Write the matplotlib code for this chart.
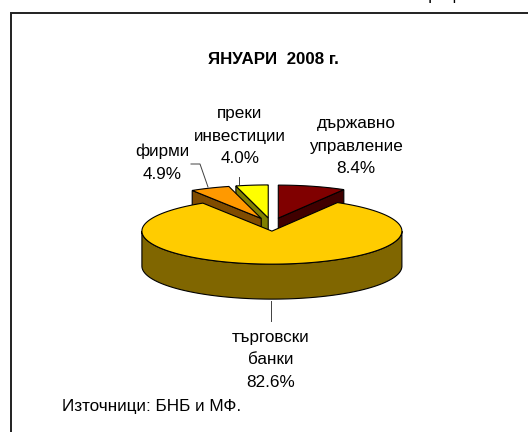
import matplotlib
matplotlib.use('Agg')
import matplotlib.pyplot as plt
import numpy as np

plt.rcParams['font.family'] = ['Liberation Sans', 'DejaVu Sans']

# --- Data ---
labels = ['държавно\nуправление', 'търговски\nбанки', 'фирми', 'преки\nинвестиции']
values = [8.4, 82.6, 4.9, 4.0]
top_colors = ['#800000', '#FFCC00', '#FF9900', '#FFFF00']
side_colors = ['#400000', '#806600', '#804C00', '#808000']
title = 'ЯНУАРИ  2008 г.'
source = 'Източници: БНБ и МФ.'
header = 'Графика'

# --- Pie geometry in pixels ---
CX, CY = 271.5, 224.5
RADIUS = 130
TILT = 0.254
DEPTH = 35
EXPLODE = 26

fig = plt.figure(figsize=(5.28, 4.32), dpi=100)
ax = fig.add_axes([0, 0, 1, 1])
ax.set_xlim(0, 528)
ax.set_ylim(432, 0)
ax.axis('off')


def rim(a, b, apex):
    t = np.radians(np.linspace(a, b, 200))
    return apex[0] + RADIUS * np.sin(t), apex[1] - RADIUS * TILT * np.cos(t)


def draw_slice(a, b, top, side):
    mid = np.radians((a + b) / 2)
    apex = (CX + EXPLODE * np.sin(mid), CY - EXPLODE * TILT * np.cos(mid))
    x, y = rim(a, b, apex)
    # radial wall that faces the viewer, the big slice hides its own
    if b - a < 90:
        ex, ey = rim(b if b < 180 else a, b if b < 180 else a, apex)
        ax.fill([apex[0], ex[0], ex[0], apex[0]],
                [apex[1], ey[0], ey[0] + DEPTH, apex[1] + DEPTH],
                fc=side, ec='black', lw=0.8)
    # outer wall, the part of the rim on the lower half of the ellipse
    lo, hi = max(a, 90), min(b, 270)
    if hi > lo:
        wx, wy = rim(lo, hi, apex)
        ax.fill(np.r_[wx, wx[::-1]], np.r_[wy, wy[::-1] + DEPTH],
                fc=side, ec='black', lw=0.8)
    ax.fill(np.r_[apex[0], x], np.r_[apex[1], y], fc=top, ec='black', lw=0.8)


# --- Slices, angles run clockwise from 12 o'clock ---
shares = np.array(values) / sum(values) * 360
ends = np.cumsum(shares)
starts = ends - shares
for i in [0, 3, 2, 1]:
    draw_slice(starts[i], ends[i], top_colors[i], side_colors[i])

# --- Leader lines ---
ax.plot([191, 200, 208], [164, 164, 187], color='#404040', lw=0.7)
ax.plot([239, 239], [177, 184], color='#404040', lw=0.7)
ax.plot([270.5, 270.5], [301, 321], color='#404040', lw=0.7)

# --- Text ---
FS = 12.3
tkw = dict(fontsize=FS, ha='center', va='center', linespacing=1.65, color='black')
texts = [f'{n}\n{v}%' for n, v in zip(labels, values)]
ax.text(356, 146, texts[0], **tkw)
ax.text(271, 360, texts[1], **tkw)
ax.text(162, 163, texts[2], **tkw)
ax.text(240, 136, texts[3], **tkw)
ax.text(273.5, 60, title, fontsize=12.2, fontweight='bold', ha='center', va='center')
ax.text(62, 407, source, fontsize=FS, ha='left', va='center')
# header line is cut off by the top of the image
ax.text(421, 0, header, fontsize=FS, ha='left', va='baseline')

# --- Frame ---
ax.plot([10.5, 10.5, 528], [432, 12.5, 12.5], color='#202020', lw=1.4, solid_joinstyle='miter')

fig.savefig('out.png', dpi=100)
